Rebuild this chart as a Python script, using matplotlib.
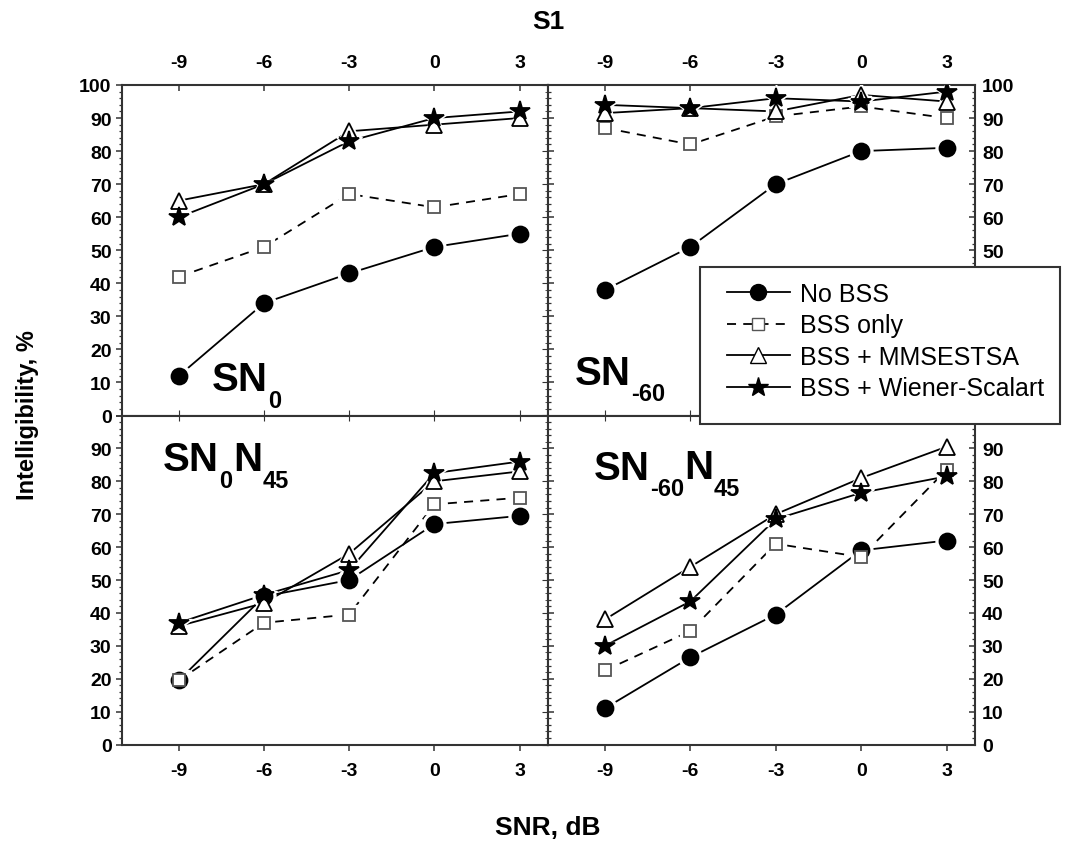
import numpy as np
import matplotlib
matplotlib.use('Agg')
import matplotlib.pyplot as plt
from matplotlib.lines import Line2D
from matplotlib.patches import Rectangle
from matplotlib.ticker import MultipleLocator, FuncFormatter

plt.rcParams['font.family'] = ['Liberation Sans', 'DejaVu Sans']
plt.rcParams['font.weight'] = 'bold'
plt.rcParams['axes.unicode_minus'] = False

snr = [-9, -6, -3, 0, 3]
series = ['No BSS', 'BSS only', 'BSS + MMSESTSA', 'BSS + Wiener-Scalart']

# intelligibility (%) per condition, one list per processing scheme
sn0_nobss = [12, 34, 43, 51, 55]
sn0_bss = [42, 51, 67, 63, 67]
sn0_mmse = [65, 70, 86, 88, 90]
sn0_wiener = [60, 70, 83, 90, 92]

sn60_nobss = [38, 51, 70, 80, 81]
sn60_bss = [87, 82, 90.5, 93.5, 90]
sn60_mmse = [91.5, 93, 92, 97, 95]
sn60_wiener = [94, 93, 96, 95, 98]

sn0n45_nobss = [19.5, 45, 50, 67, 69.5]
sn0n45_bss = [19.5, 37, 39.5, 73, 75]
sn0n45_mmse = [36, 43, 58, 80, 83]
sn0n45_wiener = [37, 45.5, 53, 82.5, 86]

sn60n45_nobss = [11, 26.5, 39.5, 59, 62]
sn60n45_bss = [22.5, 34.5, 61, 57, 83.5]
sn60n45_mmse = [38, 54, 70, 81, 90.5]
sn60n45_wiener = [30, 43.5, 68.5, 76.5, 81.5]

styles = [
    dict(ls='-', marker='o', ms=11.5, mfc='black', mec='black'),
    dict(ls=(0, (5, 4)), marker='s', ms=9, mfc='white', mec='#555555'),
    dict(ls='-', marker='^', ms=12, mfc='white', mec='black'),
    dict(ls='-', marker='*', ms=14.5, mfc='black', mec='black'),
]

W, H = 1077, 862
fig = plt.figure(figsize=(W / 100, H / 100), dpi=100)

def px_rect(x0, y0, x1, y1):
    return [x0 / W, 1 - y1 / H, (x1 - x0) / W, (y1 - y0) / H]

ax_tl = fig.add_axes(px_rect(122, 86, 548, 416.5))
ax_tr = fig.add_axes(px_rect(548, 86, 975, 416.5))
ax_bl = fig.add_axes(px_rect(122, 416.5, 548, 745.5))
ax_br = fig.add_axes(px_rect(548, 416.5, 975, 745.5))

panels = [
    (ax_tl, [sn0_nobss, sn0_bss, sn0_mmse, sn0_wiener]),
    (ax_tr, [sn60_nobss, sn60_bss, sn60_mmse, sn60_wiener]),
    (ax_bl, [sn0n45_nobss, sn0n45_bss, sn0n45_mmse, sn0n45_wiener]),
    (ax_br, [sn60n45_nobss, sn60n45_bss, sn60n45_mmse, sn60n45_wiener]),
]

for ax, data in panels:
    for vals, st in zip(data, styles):
        ax.plot(snr, vals, ls=st['ls'], color='black', lw=1.3, zorder=2)
        # white halo leaves a small gap between line and marker
        ax.plot(snr, vals, ls='none', marker=st['marker'], ms=st['ms'] + 5,
                mfc='white', mec='white', zorder=3)
        ax.plot(snr, vals, ls='none', marker=st['marker'], ms=st['ms'],
                mfc=st['mfc'], mec=st['mec'], mew=1.3, zorder=4)
    ax.set_xlim(-11, 4)
    ax.set_ylim(0, 100)
    ax.set_xticks(snr)
    ax.yaxis.set_major_locator(MultipleLocator(10))
    ax.yaxis.set_minor_locator(MultipleLocator(2))
    for s in ax.spines.values():
        s.set_linewidth(1.5)
        s.set_color('#333333')
    ax.tick_params(which='major', length=4.5, width=1.1, color='#333333',
                   labelsize=14)
    ax.tick_params(which='minor', length=2.5, width=0.9, color='#333333')

# top row: x labels above, ticks point in
for ax in (ax_tl, ax_tr):
    ax.tick_params(axis='x', top=True, bottom=False, labeltop=True,
                   labelbottom=False, direction='in', pad=10)
# bottom row: ticks out at the bottom
for ax in (ax_bl, ax_br):
    ax.tick_params(axis='x', top=False, bottom=True, labeltop=False,
                   labelbottom=True, direction='out', pad=8)
    ax.yaxis.set_major_formatter(FuncFormatter(lambda v, p: '' if v >= 100 else '%d' % v))

# left column: labels on left, outward ticks
for ax in (ax_tl, ax_bl):
    ax.tick_params(axis='y', which='both', left=True, right=False,
                   labelleft=True, labelright=False, direction='out', pad=3)
# right column: labels on right, inward ticks
for ax in (ax_tr, ax_br):
    ax.tick_params(axis='y', which='both', left=True, right=True,
                   labelleft=False, labelright=True, direction='in', pad=5)
# the legend box hides the lower right labels of the upper panel
ax_tr.yaxis.set_major_formatter(FuncFormatter(lambda v, p: '%d' % v if v >= 50 else ''))

# tick marks crossing the shared vertical edge
for ax in (ax_tl, ax_bl):
    sec = ax.secondary_yaxis('right')
    sec.yaxis.set_major_locator(MultipleLocator(10))
    sec.yaxis.set_minor_locator(MultipleLocator(2))
    sec.tick_params(which='both', direction='in', labelright=False, color='#333333')
    sec.tick_params(which='major', length=4.5)
    sec.tick_params(which='minor', length=2.5)
    sec.spines['right'].set_visible(False)

# tick marks crossing the shared horizontal edge
for ax in (ax_tl, ax_tr):
    sec = ax.secondary_xaxis('bottom')
    sec.set_xticks(snr)
    sec.tick_params(direction='in', labelbottom=False, length=4.5, color='#333333')
    sec.spines['bottom'].set_visible(False)
for ax in (ax_bl, ax_br):
    sec = ax.secondary_xaxis('top')
    sec.set_xticks(snr)
    sec.tick_params(direction='in', labeltop=False, length=4.5, color='#333333')
    sec.spines['top'].set_visible(False)


def panel_name(ax, x, y, parts, big=29, small=17):
    # parts alternate between normal text and subscripts
    first = ax.text(x, y, parts[0], fontsize=big, va='baseline', zorder=5)
    prev = first
    for i, s in enumerate(parts[1:]):
        if i % 2 == 0:
            prev = ax.annotate(s, xy=(1, 0), xycoords=(prev, first),
                               xytext=(0.3, -5.9), textcoords='offset points',
                               fontsize=small, va='baseline', zorder=5)
        else:
            prev = ax.annotate(s, xy=(1, 0), xycoords=(prev, first),
                               xytext=(0.3, 6.1), textcoords='offset points',
                               fontsize=big, va='baseline', zorder=5)


panel_name(ax_tl, -7.85, 7.6, ['SN', '0'])
panel_name(ax_tr, -10.05, 9.6, ['SN', '-60'])
panel_name(ax_bl, -9.55, 83.3, ['SN', '0', 'N', '45'])
panel_name(ax_br, -9.4, 80.8, ['SN', '-60', 'N', '45'])

fig.text(548 / W, 1 - 22 / H, 'S1', ha='center', va='center', size=19)
fig.text(548 / W, 1 - 828 / H, 'SNR, dB', ha='center', va='center', size=19)
fig.text(28 / W, 1 - 415 / H, 'Intelligibility, %', ha='center', va='center',
         rotation=90, size=17)

# legend with its own white box drawn over the right column
box = Rectangle((700 / W, 1 - 425 / H), 360 / W, 157 / H,
                transform=fig.transFigure, facecolor='white',
                edgecolor='#333333', lw=1.5, zorder=10)
fig.patches.append(box)
handles = [Line2D([], [], color='black', lw=1.3, ls=st['ls'], marker=st['marker'],
                  ms=st['ms'], mfc=st['mfc'], mec=st['mec'])
           for st in styles]
leg = fig.legend(handles, series, loc='upper left',
                 bbox_to_anchor=(727 / W, 1 - 283 / H), frameon=False,
                 prop={'family': 'Liberation Sans', 'weight': 'normal', 'size': 18},
                 handlelength=2.5, handletextpad=0.4,
                 labelspacing=0.3, borderpad=0, borderaxespad=0)
leg.set_zorder(11)

fig.savefig('out.png', dpi=100)
